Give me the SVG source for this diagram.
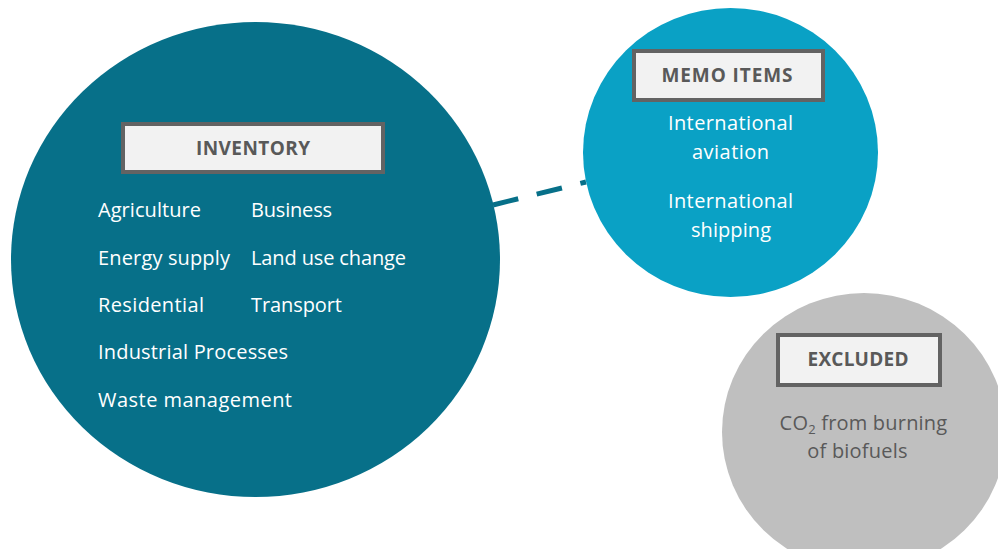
<svg xmlns="http://www.w3.org/2000/svg" width="998" height="549" viewBox="0 0 998 549">
  <style>
    .label-box { fill: #F2F2F2; stroke: #636363; stroke-width: 4; }
    .label { font-family: "Open Sans", "Liberation Sans", sans-serif; font-weight: bold; font-size: 19px; fill: #595959; text-anchor: middle; }
    .item { font-family: "Open Sans", "Liberation Sans", sans-serif; font-size: 20px; fill: #FFFFFF; }
    .item-c { font-family: "Open Sans", "Liberation Sans", sans-serif; font-size: 20px; fill: #FFFFFF; text-anchor: middle; }
    .grey-text { font-family: "Open Sans", "Liberation Sans", sans-serif; font-size: 20px; fill: #595959; text-anchor: middle; letter-spacing: 0.2px; }
    .link { stroke: #077089; stroke-width: 5; stroke-dasharray: 26 19; fill: none; }
  </style>
  <rect width="998" height="549" fill="#FFFFFF"/>

  <!-- Inventory -->
  <g id="inventory">
    <ellipse cx="255.5" cy="259.5" rx="244.5" ry="237.5" fill="#077089"/>
    <rect class="label-box" x="123" y="124" width="260" height="48"/>
    <text class="label" x="253" y="155" textLength="114" lengthAdjust="spacing">INVENTORY</text>
    <text class="item" x="98" y="217" textLength="103" lengthAdjust="spacing">Agriculture</text>
    <text class="item" x="251" y="217" textLength="81" lengthAdjust="spacing">Business</text>
    <text class="item" x="98" y="264.5" textLength="132" lengthAdjust="spacing">Energy supply</text>
    <text class="item" x="251" y="264.5" textLength="155" lengthAdjust="spacing">Land use change</text>
    <text class="item" x="98" y="311.5" textLength="106" lengthAdjust="spacing">Residential</text>
    <text class="item" x="251" y="311.5" textLength="91" lengthAdjust="spacing">Transport</text>
    <text class="item" x="98" y="359" textLength="190" lengthAdjust="spacing">Industrial Processes</text>
    <text class="item" x="98" y="406.5" textLength="194" lengthAdjust="spacing">Waste management</text>
  </g>

  <!-- Memo items -->
  <g id="memo-items">
    <ellipse cx="730.5" cy="152.5" rx="147.5" ry="144.5" fill="#0AA1C5"/>
    <rect class="label-box" x="634" y="51" width="189" height="49"/>
    <text class="label" x="727" y="82" textLength="131" lengthAdjust="spacing">MEMO ITEMS</text>
    <text class="item-c" x="730.5" y="129.5" textLength="125" lengthAdjust="spacing">International</text>
    <text class="item-c" x="730.5" y="159" textLength="77" lengthAdjust="spacing">aviation</text>
    <text class="item-c" x="730.5" y="207.5" textLength="125" lengthAdjust="spacing">International</text>
    <text class="item-c" x="731" y="236.5" textLength="80" lengthAdjust="spacing">shipping</text>
  </g>

  <!-- Excluded -->
  <g id="excluded">
    <ellipse cx="864" cy="432" rx="142" ry="139" fill="#BFBFBF"/>
    <rect class="label-box" x="778" y="335" width="162" height="50"/>
    <text class="label" x="858" y="366" textLength="101" lengthAdjust="spacing">EXCLUDED</text>
    <text class="grey-text" x="863.5" y="430">CO<tspan font-size="13" dy="4">2</tspan><tspan dy="-4"> from burning</tspan></text>
    <text class="grey-text" x="857.5" y="458">of biofuels</text>
  </g>

  <!-- Connectors -->
  <g id="connectors">
    <line class="link" x1="493" y1="205" x2="586" y2="182"/>
  </g>
</svg>
